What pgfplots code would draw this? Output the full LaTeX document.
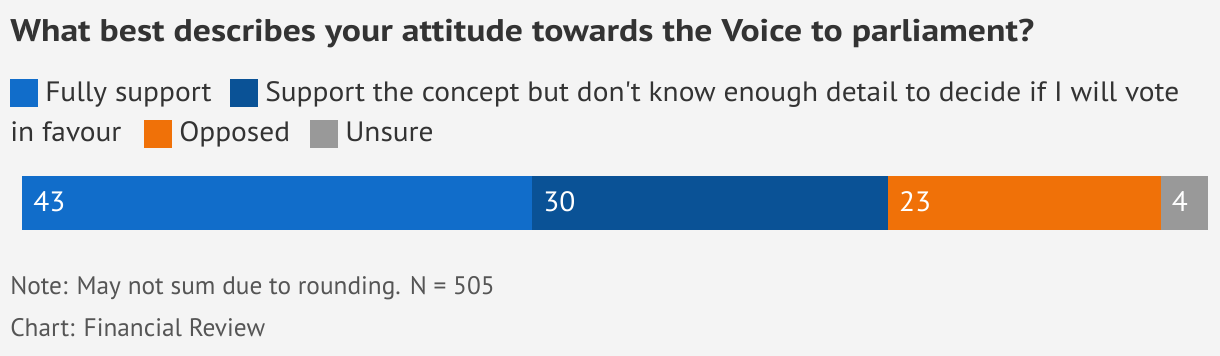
\documentclass[border=0pt]{standalone}
\usepackage{fontspec}
\setmainfont{PT Sans}
\newfontfamily\titfont[FakeStretch=1.14]{PT Sans}
\newfontfamily\legfont[FakeStretch=1.05]{PT Sans}
\usepackage{pgfplots}
\pgfplotsset{compat=1.18}
\definecolor{bg}{HTML}{F4F4F4}
\definecolor{txt}{HTML}{333333}
\definecolor{note}{HTML}{555555}
\definecolor{c1}{HTML}{116DCA}
\definecolor{c2}{HTML}{0A5296}
\definecolor{c3}{HTML}{F07108}
\definecolor{c4}{HTML}{999999}
\begin{document}
\begin{tikzpicture}
\def\u{0.75pt}
\fill[bg] (0,0) rectangle (1220*\u,-356*\u);
\node[anchor=base west, inner sep=0, font=\titfont\bfseries\fontsize{23.5}{28}\selectfont, text=txt] at (10*\u,-42*\u) {What best describes your attitude towards the Voice to parliament?};
% legend line 1
\fill[c1] (10*\u,-79*\u) rectangle ++(28*\u,-28*\u);
\node[anchor=base west, inner sep=0, font=\legfont\fontsize{21}{25}\selectfont, text=txt] at (45*\u,-102*\u) {Fully support};
\fill[c2] (230*\u,-79*\u) rectangle ++(28*\u,-28*\u);
\node[anchor=base west, inner sep=0, font=\legfont\fontsize{21}{25}\selectfont, text=txt] at (265*\u,-102*\u) {Support the concept but don\textquotesingle t know enough detail to decide if I will vote};
% legend line 2
\node[anchor=base west, inner sep=0, font=\legfont\fontsize{21}{25}\selectfont, text=txt] at (10*\u,-142*\u) {in favour};
\fill[c3] (144*\u,-120*\u) rectangle ++(28*\u,-28*\u);
\node[anchor=base west, inner sep=0, font=\legfont\fontsize{21}{25}\selectfont, text=txt] at (179*\u,-142*\u) {Opposed};
\fill[c4] (310*\u,-120*\u) rectangle ++(28*\u,-28*\u);
\node[anchor=base west, inner sep=0, font=\legfont\fontsize{21}{25}\selectfont, text=txt] at (345*\u,-142*\u) {Unsure};
\begin{axis}[
  at={(22*\u,-176*\u)}, anchor=north west,
  scale only axis, width=889.5pt, height=40.5pt,
  xmin=0, xmax=100, ymin=-0.5, ymax=0.5,
  hide axis, xbar stacked, bar width=40.5pt,
  clip=false,
]
\addplot[fill=c1, draw=none] coordinates {(43,0)};
\addplot[fill=c2, draw=none] coordinates {(30,0)};
\addplot[fill=c3, draw=none] coordinates {(23,0)};
\addplot[fill=c4, draw=none] coordinates {(4,0)};
\end{axis}
\begin{axis}[
  at={(22*\u,-176*\u)}, anchor=north west,
  scale only axis, width=889.5pt, height=40.5pt,
  xmin=0, xmax=100, ymin=-0.5, ymax=0.5,
  hide axis, clip=false,
  nodes near coords, point meta=explicit symbolic,
  every node near coord/.style={anchor=base west, inner sep=0, text=white, font=\legfont\fontsize{21}{25}\selectfont, xshift=8.25pt, yshift=-6.75pt},
]
\addplot[only marks, mark=none] coordinates {(0,0) [43] (43,0) [30] (73,0) [23] (96,0) [4]};
\end{axis}
\node[anchor=base west, inner sep=0, font=\fontsize{19}{23}\selectfont, text=note] at (10*\u,-294*\u) {Note: May not sum due to rounding. N = 505};
\node[anchor=base west, inner sep=0, font=\fontsize{19}{23}\selectfont, text=note] at (10*\u,-336*\u) {Chart: Financial Review};
\end{tikzpicture}
\end{document}
